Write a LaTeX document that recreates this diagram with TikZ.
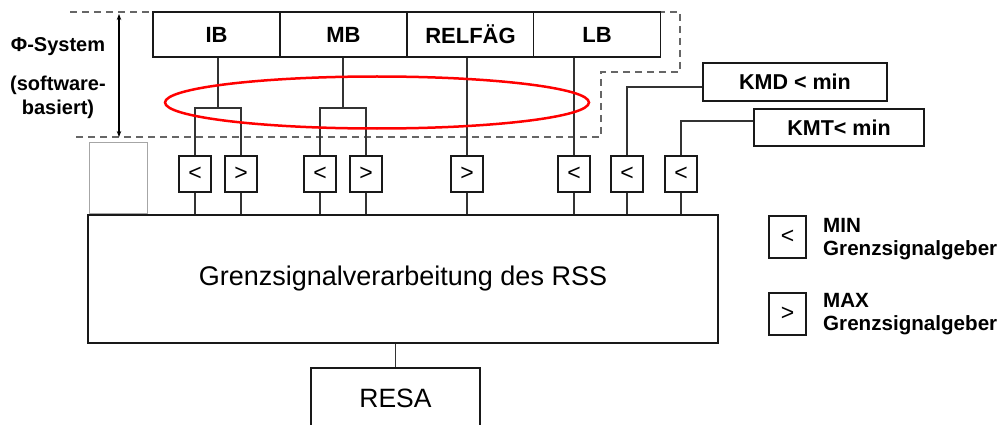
\documentclass[tikz,border=0pt]{standalone}
\usepackage{fontspec}
\setmainfont{Liberation Sans}
\usetikzlibrary{arrows.meta}
\begin{document}
\begin{tikzpicture}[x=1pt,y=-1pt,
  box/.style={draw=black!90, line width=1.8pt, fill=white, inner sep=0pt},
  topbox/.style={box, minimum width=127pt, minimum height=45pt, font=\fontsize{22}{26}\selectfont\bfseries},
  cmp/.style={box, minimum width=32pt, minimum height=36pt, font=\fontsize{23}{27}\selectfont},
  conn/.style={draw=black!80, line width=1.2pt},
  dashline/.style={draw=black!60, line width=1.8pt, dash pattern=on 7pt off 5pt},
  lbl/.style={font=\fontsize{20}{24}\selectfont\bfseries, inner sep=0pt},
  leg/.style={font=\fontsize{20.6}{24}\selectfont\bfseries, inner sep=0pt},
  tip/.style={{Stealth[length=6pt,width=4.5pt]}-{Stealth[length=6pt,width=4.5pt]}}
]
\useasboundingbox (0,0) rectangle (1003,425);
\clip (0,0) rectangle (1003,425);

% dashed frame of the Phi-System
\draw[dashline] (70,12) -- (680,12) -- (680,72) -- (601,72) -- (601,137) -- (75,137);

% left labels and arrow
\node[lbl, anchor=base] (phi) at (58,52) {Φ-System};
\node[lbl, anchor=base] (sw) at (58,91) {(software-};
\node[lbl, anchor=base] (bas) at (58,115) {basiert)};
\coordinate (atop) at (119,14);
\coordinate (abot) at (119,137);
\draw[conn, draw=black, tip] (atop) -- (abot);

% grey empty box
\node[draw=black!35, line width=0.8pt, minimum width=58pt, minimum height=71pt, inner sep=0pt] (gbox) at (118,177.5) {};

% top boxes
\node[topbox] (ib) at (216.5,34.5) {IB};
\node[topbox] (mb) at (343.5,34.5) {MB};
\node[topbox] (rel) at (470.5,34.5) {RELFÄG};
\node[topbox] (lb) at (597,34.5) {LB};

% threshold boxes
\node[box, minimum width=184pt, minimum height=38pt, font=\fontsize{21.5}{25}\selectfont\bfseries] (kmd) at (795,82) {KMD < min};
\node[box, minimum width=170pt, minimum height=37pt, font=\fontsize{21.5}{25}\selectfont\bfseries] (kmt) at (839,127.5) {KMT< min};

% comparators
\node[cmp] (c1) at (195,174) {<};
\node[cmp] (c2) at (241,174) {>};
\node[cmp] (c3) at (320,174) {<};
\node[cmp] (c4) at (366,174) {>};
\node[cmp] (c5) at (467,174) {>};
\node[cmp] (c6) at (574,174) {<};
\node[cmp] (c7) at (627,174) {<};
\node[cmp] (c8) at (681,174) {<};

% main box and RESA
\node[box, minimum width=630pt, minimum height=128pt, font=\fontsize{27}{31}\selectfont] (main) at (403,279) {Grenzsignalverarbeitung des RSS};
\node[box, minimum width=169pt, minimum height=60pt, font=\fontsize{26.5}{30}\selectfont] (resa) at (395.5,398) {RESA};

% legend
\node[box, minimum width=37pt, minimum height=42pt, font=\fontsize{23}{27}\selectfont] (lmin) at (787.5,237) {<};
\node[box, minimum width=37pt, minimum height=42pt, font=\fontsize{23}{27}\selectfont] (lmax) at (787.5,314) {>};
\node[leg, anchor=base west] (tmin) at (823,232) {MIN};
\node[leg, anchor=base west] (tming) at (823,255) {Grenzsignalgeber};
\node[leg, anchor=base west] (tmax) at (823,307) {MAX};
\node[leg, anchor=base west] (tmaxg) at (823,330) {Grenzsignalgeber};

% connectors
\coordinate (f1) at (218,108);
\coordinate (f2) at (343,108);
\draw[conn] (f1 |- ib.south) -- (f1);
\draw[conn] (c1.north) |- (f1) -| (c2.north);
\draw[conn] (f2 |- mb.south) -- (f2);
\draw[conn] (c3.north) |- (f2) -| (c4.north);
\draw[conn] (c5.north |- rel.south) -- (c5.north);
\draw[conn] (c6.north |- lb.south) -- (c6.north);
\draw[conn] ([yshift=-5pt]kmd.west) -| (c7.north);
\draw[conn] ([yshift=6.5pt]kmt.west) -| (c8.north);
\foreach \c in {c1,c2,c3,c4,c5,c6,c7,c8}
  \draw[conn] (\c.south) -- (\c.south |- main.north);
\draw[conn] (resa.north |- main.south) -- (resa.north);

% red ellipse
\draw[red, line width=2.5pt] (377,102.5) ellipse [x radius=212, y radius=26];
\end{tikzpicture}
\end{document}
